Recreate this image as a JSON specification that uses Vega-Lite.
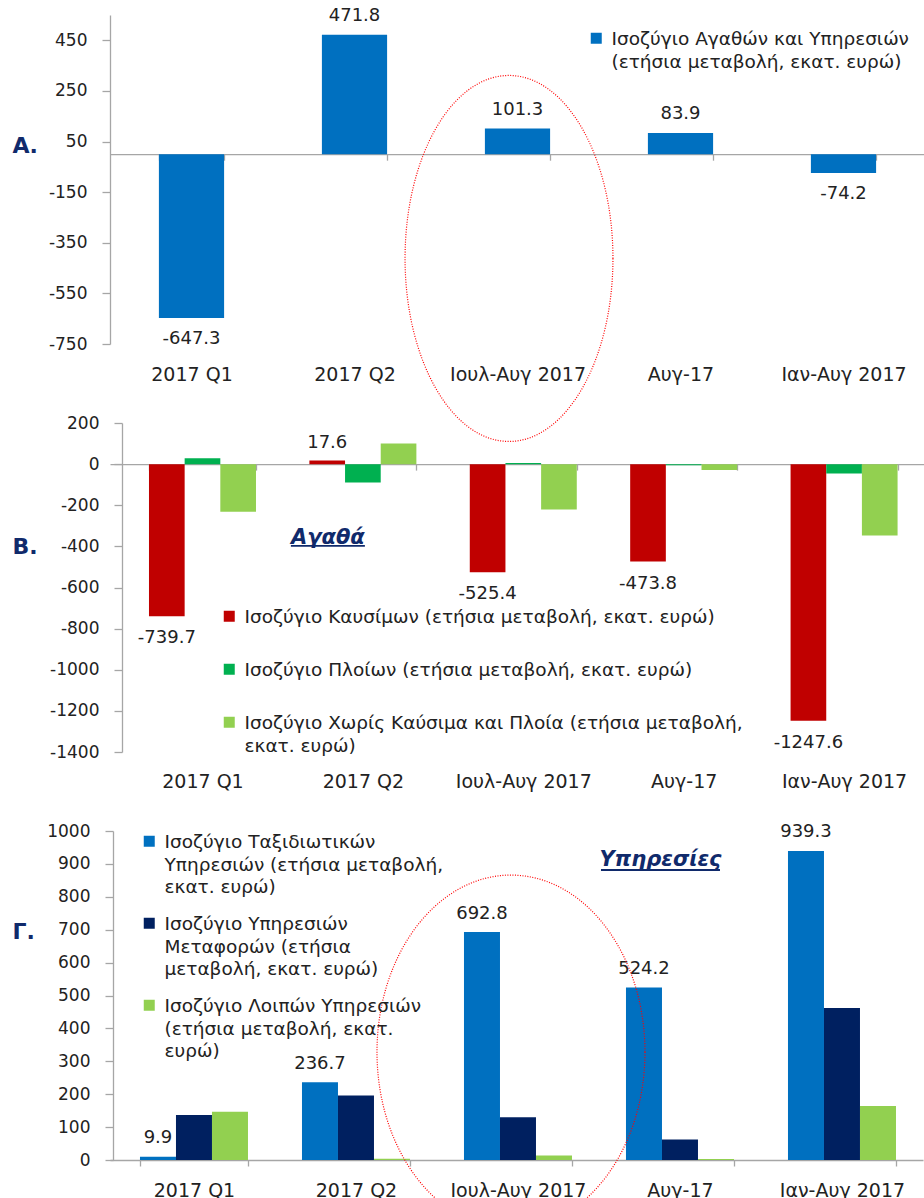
{
  "$schema": "https://vega.github.io/schema/vega-lite/v6.json",
  "background": "white",
  "padding": {"left": 12, "top": 7, "right": 0, "bottom": 0},
  "config": {
    "locale": {"number": {"decimal": ".", "thousands": "", "grouping": [3], "currency": ["", ""], "minus": "-"}},
    "view": {"stroke": null},
    "font": "DejaVu Sans",
    "axis": {"domainColor": "#a6a6a6", "tickColor": "#a6a6a6", "grid": false, "labelColor": "#222222", "labelFont": "DejaVu Sans", "domainWidth": 1.3, "tickWidth": 1.3},
    "axisX": {"labelFontSize": 19, "tickSize": 6, "tickBand": "extent", "labelAngle": 0, "labelBaseline": "middle"},
    "axisY": {"labelFontSize": 17, "tickSize": 8, "labelOverlap": false, "titleAngle": 0, "titleAlign": "left", "titleBaseline": "middle", "titleFontSize": 22, "titleFontWeight": "bold", "titleColor": "#102a6b", "titleFont": "DejaVu Sans"},
    "legend": {"orient": "none", "labelFont": "DejaVu Sans", "labelFontSize": 18.5, "labelColor": "#222222", "labelLimit": 1000, "symbolType": "square", "symbolSize": 121, "symbolStrokeWidth": 0, "labelOffset": 6, "padding": 0, "labelBaseline": "top"},
    "text": {"font": "DejaVu Sans", "fontSize": 18, "color": "#222222"}
  },
  "datasets": {
    "a": [
      {"period": "2017 Q1", "series": "Αγαθά και Υπηρεσίες", "value": -647.3},
      {"period": "2017 Q2", "series": "Αγαθά και Υπηρεσίες", "value": 471.8},
      {"period": "Ιουλ-Αυγ 2017", "series": "Αγαθά και Υπηρεσίες", "value": 101.3},
      {"period": "Αυγ-17", "series": "Αγαθά και Υπηρεσίες", "value": 83.9},
      {"period": "Ιαν-Αυγ 2017", "series": "Αγαθά και Υπηρεσίες", "value": -74.2}
    ],
    "b": [
      {"period": "2017 Q1", "series": "Καύσιμα", "value": -739.7},
      {"period": "2017 Q2", "series": "Καύσιμα", "value": 17.6},
      {"period": "Ιουλ-Αυγ 2017", "series": "Καύσιμα", "value": -525.4},
      {"period": "Αυγ-17", "series": "Καύσιμα", "value": -473.8},
      {"period": "Ιαν-Αυγ 2017", "series": "Καύσιμα", "value": -1247.6},
      {"period": "2017 Q1", "series": "Πλοία", "value": 29},
      {"period": "2017 Q2", "series": "Πλοία", "value": -89},
      {"period": "Ιουλ-Αυγ 2017", "series": "Πλοία", "value": 6},
      {"period": "Αυγ-17", "series": "Πλοία", "value": -5},
      {"period": "Ιαν-Αυγ 2017", "series": "Πλοία", "value": -46},
      {"period": "2017 Q1", "series": "Λοιπά", "value": -232},
      {"period": "2017 Q2", "series": "Λοιπά", "value": 100},
      {"period": "Ιουλ-Αυγ 2017", "series": "Λοιπά", "value": -221},
      {"period": "Αυγ-17", "series": "Λοιπά", "value": -29},
      {"period": "Ιαν-Αυγ 2017", "series": "Λοιπά", "value": -347}
    ],
    "c": [
      {"period": "2017 Q1", "series": "Ταξιδιωτικές", "value": 9.9},
      {"period": "2017 Q2", "series": "Ταξιδιωτικές", "value": 236.7},
      {"period": "Ιουλ-Αυγ 2017", "series": "Ταξιδιωτικές", "value": 692.8},
      {"period": "Αυγ-17", "series": "Ταξιδιωτικές", "value": 524.2},
      {"period": "Ιαν-Αυγ 2017", "series": "Ταξιδιωτικές", "value": 939.3},
      {"period": "2017 Q1", "series": "Μεταφορές", "value": 137},
      {"period": "2017 Q2", "series": "Μεταφορές", "value": 196},
      {"period": "Ιουλ-Αυγ 2017", "series": "Μεταφορές", "value": 130},
      {"period": "Αυγ-17", "series": "Μεταφορές", "value": 62},
      {"period": "Ιαν-Αυγ 2017", "series": "Μεταφορές", "value": 462},
      {"period": "2017 Q1", "series": "Λοιπές", "value": 147},
      {"period": "2017 Q2", "series": "Λοιπές", "value": 4},
      {"period": "Ιουλ-Αυγ 2017", "series": "Λοιπές", "value": 14},
      {"period": "Αυγ-17", "series": "Λοιπές", "value": 3},
      {"period": "Ιαν-Αυγ 2017", "series": "Λοιπές", "value": 164}
    ],
    "notesB": [{"period": "2017 Q2", "label": "Αγαθά"}],
    "notesC": [{"period": "Αυγ-17", "label": "Υπηρεσίες"}],
    "oval": [{"period": "Ιουλ-Αυγ 2017"}]
  },
  "columns": 1,
  "spacing": 79,
  "bounds": "flush",
  "resolve": {"scale": {"color": "independent", "xOffset": "independent"}, "legend": {"color": "independent"}},
  "concat": [
    {
      "width": 815,
      "height": 329,
      "layer": [
        {
          "data": {"name": "a"},
          "mark": {"type": "bar"},
          "encoding": {
            "x": {"field": "period", "type": "nominal", "sort": null,
              "scale": {"domain": ["2017 Q1", "2017 Q2", "Ιουλ-Αυγ 2017", "Αυγ-17", "Ιαν-Αυγ 2017"], "paddingInner": 0.6, "paddingOuter": 0.3},
              "axis": {"title": null, "offset": -189.8, "labelPadding": 213.8}},
            "y": {"field": "value", "type": "quantitative",
              "scale": {"domain": [-750, 550], "nice": false, "zero": false},
              "axis": {"values": [-750, -550, -350, -150, 50, 250, 450], "title": "Α.", "titleX": -98, "titleY": 130, "labelPadding": 15, "labelOverlap": false}},
            "color": {"field": "series", "type": "nominal",
              "scale": {"domain": ["Αγαθά και Υπηρεσίες"], "range": ["#0070c0"]},
              "legend": {"title": null, "legendX": 477, "legendY": 14,
                "labelExpr": "['Ισοζύγιο Αγαθών και Υπηρεσιών', '(ετήσια μεταβολή, εκατ. ευρώ)']",
                "encoding": {"labels": {"lineHeight": {"value": 22.5}, "dy": {"value": -8.2}}}}}
          }
        },
        {
          "data": {"name": "a"},
          "transform": [{"filter": "datum.value >= 0"}],
          "mark": {"type": "text", "dy": -18.5, "baseline": "middle"},
          "encoding": {
            "x": {"field": "period", "type": "nominal"},
            "y": {"field": "value", "type": "quantitative"},
            "text": {"field": "value", "type": "quantitative", "format": ".1f"}
          }
        },
        {
          "data": {"name": "a"},
          "transform": [{"filter": "datum.value < 0"}],
          "mark": {"type": "text", "dy": 21, "baseline": "middle"},
          "encoding": {
            "x": {"field": "period", "type": "nominal"},
            "y": {"field": "value", "type": "quantitative"},
            "text": {"field": "value", "type": "quantitative", "format": ".1f"}
          }
        },
        {
          "data": {"name": "oval"},
          "mark": {"type": "point", "filled": false, "color": "#ff0000", "stroke": "#ff0000", "strokeWidth": 1.2, "strokeDash": [1, 1.5], "opacity": 1, "size": 133956, "xOffset": -8.5,
            "shape": "M0.568,0C0.568,0.5523 0.3137,1 0,1C-0.3137,1 -0.568,0.5523 -0.568,0C-0.568,-0.5523 -0.3137,-1 0,-1C0.3137,-1 0.568,-0.5523 0.568,0Z"},
          "encoding": {
            "x": {"field": "period", "type": "nominal"},
            "y": {"datum": -412}
          }
        }
      ]
    },
    {
      "width": 814,
      "height": 329,
      "layer": [
        {
          "data": {"name": "b"},
          "mark": {"type": "bar"},
          "encoding": {
            "x": {"field": "period", "type": "nominal", "sort": null,
              "scale": {"domain": ["2017 Q1", "2017 Q2", "Ιουλ-Αυγ 2017", "Αυγ-17", "Ιαν-Αυγ 2017"], "paddingInner": 0.3329, "paddingOuter": 0.2039, "align": 0.596},
              "axis": {"title": null, "offset": -287.9, "labelPadding": 310.9}},
            "y": {"field": "value", "type": "quantitative",
              "scale": {"domain": [-1400, 200], "nice": false, "zero": false},
              "axis": {"values": [-1400, -1200, -1000, -800, -600, -400, -200, 0, 200], "title": "Β.", "titleX": -110, "titleY": 123, "offset": -12, "labelPadding": 15, "labelOverlap": false}},
            "xOffset": {"field": "series", "type": "nominal", "sort": null,
              "scale": {"domain": ["Καύσιμα", "Πλοία", "Λοιπά"], "paddingInner": 0, "paddingOuter": 0}},
            "color": {"field": "series", "type": "nominal",
              "scale": {"domain": ["Καύσιμα", "Πλοία", "Λοιπά"], "range": ["#c00000", "#00b050", "#92d050"]},
              "legend": {"title": null, "legendX": 110, "legendY": 184, "rowPadding": 33,
                "labelExpr": "datum.value == 'Καύσιμα' ? 'Ισοζύγιο Καυσίμων (ετήσια μεταβολή, εκατ. ευρώ)' : datum.value == 'Πλοία' ? 'Ισοζύγιο Πλοίων (ετήσια μεταβολή, εκατ. ευρώ)' : ['Ισοζύγιο Χωρίς Καύσιμα και Πλοία (ετήσια μεταβολή,', 'εκατ. ευρώ)']",
                "encoding": {"labels": {"lineHeight": {"value": 22.5}, "dy": {"value": -8.2}}}}}
          }
        },
        {
          "data": {"name": "b"},
          "transform": [{"filter": "datum.series == 'Καύσιμα' && datum.value >= 0"}],
          "mark": {"type": "text", "dy": -18, "baseline": "middle"},
          "encoding": {
            "x": {"field": "period", "type": "nominal"},
            "xOffset": {"field": "series", "type": "nominal", "scale": {"domain": ["Καύσιμα", "Πλοία", "Λοιπά"], "paddingInner": 0, "paddingOuter": 0}},
            "y": {"field": "value", "type": "quantitative"},
            "text": {"field": "value", "type": "quantitative", "format": ".1f"}
          }
        },
        {
          "data": {"name": "b"},
          "transform": [{"filter": "datum.series == 'Καύσιμα' && datum.value < 0"}],
          "mark": {"type": "text", "dy": 22, "baseline": "middle"},
          "encoding": {
            "x": {"field": "period", "type": "nominal"},
            "xOffset": {"field": "series", "type": "nominal", "scale": {"domain": ["Καύσιμα", "Πλοία", "Λοιπά"], "paddingInner": 0, "paddingOuter": 0}},
            "y": {"field": "value", "type": "quantitative"},
            "text": {"field": "value", "type": "quantitative", "format": ".1f"}
          }
        },
        {
          "data": {"name": "notesB"},
          "mark": {"type": "text", "dx": -35, "baseline": "middle", "fontSize": 21, "fontWeight": "bold", "fontStyle": "italic", "color": "#102a6b"},
          "encoding": {
            "x": {"field": "period", "type": "nominal"},
            "y": {"datum": -358},
            "text": {"field": "label"}
          }
        },
        {
          "data": {"name": "notesB"},
          "mark": {"type": "tick", "orient": "horizontal", "xOffset": -35, "size": 74, "thickness": 1.8, "color": "#102a6b", "opacity": 1},
          "encoding": {
            "x": {"field": "period", "type": "nominal"},
            "y": {"datum": -398}
          }
        }
      ]
    },
    {
      "width": 813,
      "height": 329,
      "layer": [
        {
          "data": {"name": "c"},
          "mark": {"type": "bar"},
          "encoding": {
            "x": {"field": "period", "type": "nominal", "sort": null,
              "scale": {"domain": ["2017 Q1", "2017 Q2", "Ιουλ-Αυγ 2017", "Αυγ-17", "Ιαν-Αυγ 2017"], "paddingInner": 0.3333, "paddingOuter": 0.1759, "align": 0.526},
              "axis": {"title": null, "offset": 0, "labelPadding": 24}},
            "y": {"field": "value", "type": "quantitative",
              "scale": {"domain": [0, 1000], "nice": false},
              "axis": {"values": [0, 100, 200, 300, 400, 500, 600, 700, 800, 900, 1000], "tickCount": 11, "title": "Γ.", "titleX": -101, "titleY": 100, "offset": -3, "labelPadding": 15, "labelOverlap": false, "labelSeparation": 0}},
            "xOffset": {"field": "series", "type": "nominal", "sort": null,
              "scale": {"domain": ["Ταξιδιωτικές", "Μεταφορές", "Λοιπές"], "paddingInner": 0, "paddingOuter": 0}},
            "color": {"field": "series", "type": "nominal",
              "scale": {"domain": ["Ταξιδιωτικές", "Μεταφορές", "Λοιπές"], "range": ["#0070c0", "#002060", "#92d050"]},
              "legend": {"title": null, "legendX": 30, "legendY": 1, "rowPadding": 17,
                "labelExpr": "datum.value == 'Ταξιδιωτικές' ? ['Ισοζύγιο Ταξιδιωτικών', 'Υπηρεσιών (ετήσια μεταβολή,', 'εκατ. ευρώ)'] : datum.value == 'Μεταφορές' ? ['Ισοζύγιο Υπηρεσιών', 'Μεταφορών (ετήσια', 'μεταβολή, εκατ. ευρώ)'] : ['Ισοζύγιο Λοιπών Υπηρεσιών', '(ετήσια μεταβολή, εκατ.', 'ευρώ)']",
                "encoding": {"labels": {"lineHeight": {"value": 22.5}, "dy": {"value": -8.2}}}}}
          }
        },
        {
          "data": {"name": "c"},
          "transform": [{"filter": "datum.series == 'Ταξιδιωτικές'"}],
          "mark": {"type": "text", "dy": -18.5, "baseline": "middle"},
          "encoding": {
            "x": {"field": "period", "type": "nominal"},
            "xOffset": {"field": "series", "type": "nominal", "scale": {"domain": ["Ταξιδιωτικές", "Μεταφορές", "Λοιπές"], "paddingInner": 0, "paddingOuter": 0}},
            "y": {"field": "value", "type": "quantitative", "axis": {"values": [0, 100, 200, 300, 400, 500, 600, 700, 800, 900, 1000], "tickCount": 11, "labelOverlap": false}},
            "text": {"field": "value", "type": "quantitative", "format": ".1f"}
          }
        },
        {
          "data": {"name": "notesC"},
          "mark": {"type": "text", "dx": -19.5, "baseline": "middle", "fontSize": 21, "fontWeight": "bold", "fontStyle": "italic", "color": "#102a6b"},
          "encoding": {
            "x": {"field": "period", "type": "nominal"},
            "y": {"datum": 912, "axis": {"values": [0, 100, 200, 300, 400, 500, 600, 700, 800, 900, 1000], "tickCount": 11, "labelOverlap": false}},
            "text": {"field": "label"}
          }
        },
        {
          "data": {"name": "notesC"},
          "mark": {"type": "tick", "orient": "horizontal", "xOffset": -19.5, "size": 119, "thickness": 1.8, "color": "#102a6b", "opacity": 1},
          "encoding": {
            "x": {"field": "period", "type": "nominal"},
            "y": {"datum": 881.5, "axis": {"values": [0, 100, 200, 300, 400, 500, 600, 700, 800, 900, 1000], "tickCount": 11, "labelOverlap": false}}
          }
        },
        {
          "data": {"name": "oval"},
          "mark": {"type": "point", "filled": false, "color": "#ff0000", "stroke": "#ff0000", "strokeWidth": 1.2, "strokeDash": [1, 1.5], "opacity": 1, "size": 125316, "xOffset": -7,
            "shape": "M0.757,0C0.757,0.5523 0.418,1 0,1C-0.418,1 -0.757,0.5523 -0.757,0C-0.757,-0.5523 -0.418,-1 0,-1C0.418,-1 0.757,-0.5523 0.757,0Z"},
          "encoding": {
            "x": {"field": "period", "type": "nominal"},
            "y": {"datum": 328, "axis": {"values": [0, 100, 200, 300, 400, 500, 600, 700, 800, 900, 1000], "tickCount": 11, "labelOverlap": false}}
          }
        }
      ]
    }
  ]
}
